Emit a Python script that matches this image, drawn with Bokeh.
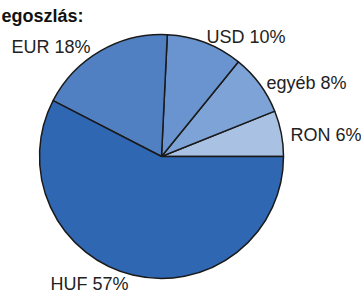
import math
from bokeh.plotting import figure
from bokeh.models import ColumnDataSource, Range1d
from bokeh.core.properties import value
from bokeh.embed import file_html
from bokeh.resources import INLINE

# data
categories = ["RON", "egyéb", "USD", "EUR", "HUF"]
shares = [6, 8, 10, 18, 57]
label_texts = ["RON 6%", "egyéb 8%", "USD 10%", "EUR 18%", "HUF 57%"]
title_text = "egoszlás:"

# styles / layout
colors = ["#a9c2e3", "#7ea3d6", "#6a94cf", "#5080c2", "#3067b2"]
W, H = 361, 293
cx, cy, R = 161, 137, 122
label_x = [290, 266, 206, 11, 50]
label_y = [159, 211, 257, 247, 10]

total = sum(shares)
starts, ends = [], []
acc = 0.0
for s in shares:
    starts.append(2 * math.pi * acc / total)
    acc += s
    ends.append(2 * math.pi * acc / total)

src = ColumnDataSource(dict(cat=categories, start=starts, end=ends, color=colors))
lab = ColumnDataSource(dict(x=label_x, y=label_y, text=label_texts))

p = figure(width=W, height=H, x_range=Range1d(0, W), y_range=Range1d(0, H),
           output_backend="svg", toolbar_location=None, min_border=0)
p.axis.visible = False
p.grid.visible = False
p.outline_line_color = None
p.background_fill_color = "white"

p.wedge(x=cx, y=cy, radius=R, start_angle="start", end_angle="end",
        fill_color="color", line_color="#1a1a1a", line_width=1.5, source=src)

p.text(x="x", y="y", text="text", source=lab, text_font=value("Liberation Sans"),
       text_font_size="18px", text_color="#222222", text_baseline="alphabetic",
       text_align="left")

p.text(x=[1], y=[278], text=[title_text], text_font=value("Liberation Sans"),
       text_font_size="18px", text_font_style="bold", text_color="#111111",
       text_baseline="alphabetic", text_align="left")

open("out.html", "w").write(file_html(p, INLINE))
